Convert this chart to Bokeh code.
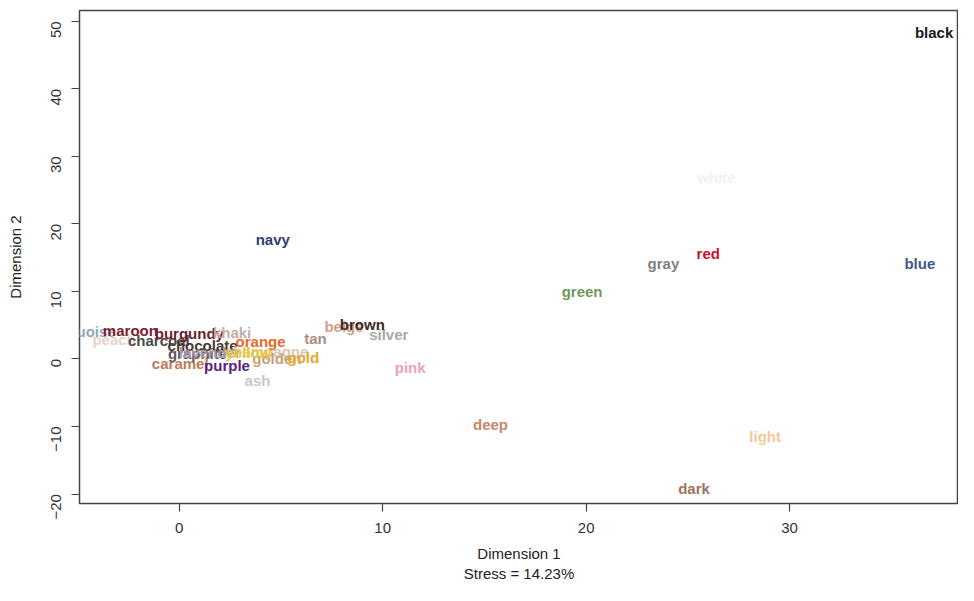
from bokeh.plotting import figure
from bokeh.models import ColumnDataSource, FixedTicker
from bokeh.embed import file_html
from bokeh.resources import INLINE
from bokeh.core.properties import value
import math

# ---- data ----
words = ["white", "peach", "turquoise", "maroon", "charcoal", "burgundy",
         "caramel", "graphite", "chocolate", "lavender", "khaki", "champagne",
         "golden", "gold", "ash", "yellow", "orange", "purple",
         "beige", "tan", "silver", "brown", "pink", "deep", "light", "dark",
         "green", "gray", "red", "blue", "navy", "black"]
dim1 = [26.4, -3.2, -4.8, -2.4, -1.0, 0.5,
        0.05, 0.9, 1.15, 1.5, 2.6, 4.3,
        4.8, 6.1, 3.85, 3.4, 4.0, 2.35,
        8.1, 6.7, 10.3, 9.0, 11.35, 15.3, 28.8, 25.3,
        19.8, 23.8, 26.0, 36.4, 4.6, 37.1]
dim2 = [26.9, 2.9, 4.1, 4.2, 2.7, 3.8,
        -0.7, 0.8, 2.0, 0.95, 3.9, 1.1,
        0.05, 0.2, -3.2, 0.95, 2.6, -1.0,
        4.8, 3.0, 3.6, 5.1, -1.3, -9.7, -11.5, -19.2,
        10.0, 14.1, 15.6, 14.1, 17.7, 48.4]
colors = ["#f2f2f2", "#ead2c8", "#8ea8c0", "#7a2030", "#4a4a4a", "#6a1e2e",
          "#c07a5a", "#5a5a5a", "#4a3a30", "#a898a8", "#c0b0a8", "#d8c8b8",
          "#c8a078", "#e8a830", "#c8c8c8", "#e8c828", "#e8692a", "#5a2080",
          "#d4a088", "#a89080", "#a8a8a8", "#3b2a20", "#f0a0b8", "#c08a68",
          "#f5c89a", "#a07260", "#6b9a5b", "#7f7f7f", "#c8102e", "#3d5a8a",
          "#2c3e6e", "#1a1a1a"]
x_ticks = [0, 10, 20, 30]
y_ticks = [-20, -10, 0, 10, 20, 30, 40, 50]

src = ColumnDataSource(dict(x=dim1, y=dim2, w=words, c=colors))

p = figure(width=958, height=585, output_backend="svg", toolbar_location=None,
           x_range=(-4.9, 38.3), y_range=(-21.4, 51.6),
           min_border_left=79, min_border_right=0, min_border_top=10,
           min_border_bottom=82)
p.background_fill_color = "white"
p.border_fill_color = "white"
p.grid.visible = False
p.outline_line_color = "#444444"
p.outline_line_width = 1.5

p.text(x="x", y="y", text="w", text_color="c", source=src,
       text_align="center", text_baseline="middle",
       text_font=value("Liberation Sans"), text_font_size="15px",
       text_font_style="bold")

for ax in (p.xaxis[0], p.yaxis[0]):
    ax.axis_line_color = None
    ax.major_tick_line_color = "#444444"
    ax.major_tick_line_width = 1.2
    ax.major_tick_in = 0
    ax.major_tick_out = 8
    ax.minor_tick_line_color = None
    ax.major_label_text_font = "Liberation Sans"
    ax.major_label_text_font_size = "15px"
    ax.major_label_text_color = "#333333"
    ax.axis_label_text_font = "Liberation Sans"
    ax.axis_label_text_font_size = "15px"
    ax.axis_label_text_font_style = "normal"
    ax.axis_label_text_color = "#222222"

p.xaxis.ticker = FixedTicker(ticks=x_ticks)
p.yaxis.ticker = FixedTicker(ticks=y_ticks)
p.xaxis.axis_label = "Dimension 1\nStress = 14.23%"
p.yaxis.axis_label = "Dimension 2"
p.xaxis.major_label_standoff = 11
p.xaxis.axis_label_standoff = 9
p.yaxis.major_label_orientation = math.pi / 2
p.yaxis.major_label_standoff = 15
p.yaxis.axis_label_standoff = 20

open("out.html", "w").write(file_html(p, INLINE))
